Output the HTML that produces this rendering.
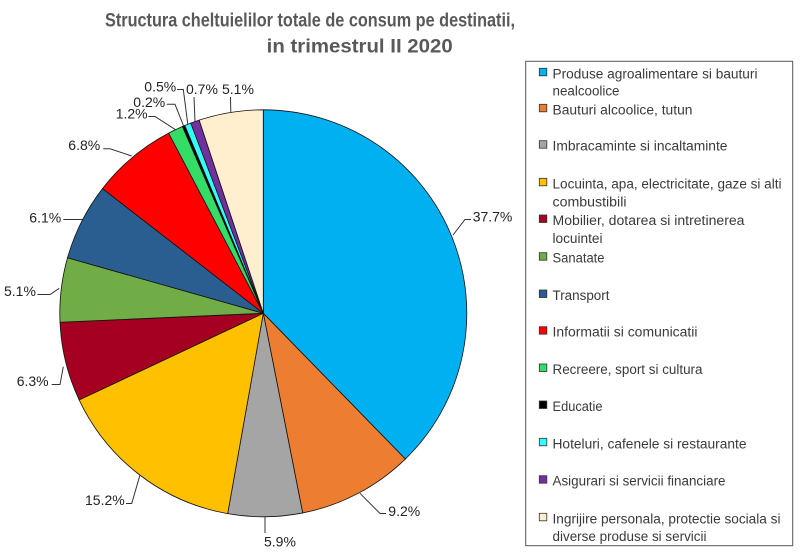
<!DOCTYPE html>
<html>
<head>
<meta charset="utf-8">
<style>
html,body{margin:0;padding:0;background:#fff;}
svg{display:block;}
.t{font-family:"Liberation Sans",Arial,sans-serif;font-weight:bold;font-size:19.5px;fill:#595959;}
.l{font-family:"Liberation Sans",Arial,sans-serif;font-size:14px;fill:#222;}
.g{font-family:"Liberation Sans",Arial,sans-serif;font-size:13.5px;fill:#3a3a3a;}
.ld{fill:none;stroke:#333;stroke-width:1;}
.m{stroke:#333;stroke-width:0.8;}
</style>
</head>
<body>
<svg width="800" height="560" viewBox="0 0 800 560" xmlns="http://www.w3.org/2000/svg">
<rect x="0" y="0" width="800" height="560" fill="#fff"/>
<!-- Title -->
<text class="t" x="105" y="26.7" textLength="410" lengthAdjust="spacingAndGlyphs">Structura cheltuielilor totale de consum pe destinatii,</text>
<text class="t" x="266.7" y="52.7" textLength="186" lengthAdjust="spacingAndGlyphs">in trimestrul II 2020</text>

<!-- Pie -->
<g stroke="#111" stroke-width="0.8" stroke-linejoin="round">
<path d="M263.3,313.3 L263.3,109.8 A203.5,203.5 0 0,1 405.34,459.03 Z" fill="#00B0F0"/>
<path d="M263.3,313.3 L405.34,459.03 A203.5,203.5 0 0,1 302.69,512.95 Z" fill="#ED7D31"/>
<path d="M263.3,313.3 L302.69,512.95 A203.5,203.5 0 0,1 227.68,513.66 Z" fill="#A5A5A5"/>
<path d="M263.3,313.3 L227.68,513.66 A203.5,203.5 0 0,1 79.17,399.95 Z" fill="#FFC000"/>
<path d="M263.3,313.3 L79.17,399.95 A203.5,203.5 0 0,1 60.0,322.25 Z" fill="#A50021"/>
<path d="M263.3,313.3 L60.0,322.25 A203.5,203.5 0 0,1 67.52,257.76 Z" fill="#70AD47"/>
<path d="M263.3,313.3 L67.52,257.76 A203.5,203.5 0 0,1 102.5,188.57 Z" fill="#2A5E91"/>
<path d="M263.3,313.3 L102.5,188.57 A203.5,203.5 0 0,1 168.65,133.15 Z" fill="#FF0000"/>
<path d="M263.3,313.3 L168.65,133.15 A203.5,203.5 0 0,1 182.48,126.54 Z" fill="#33DD66"/>
<path d="M263.3,313.3 L182.48,126.54 A203.5,203.5 0 0,1 184.83,125.53 Z" fill="#000000"/>
<path d="M263.3,313.3 L184.83,125.53 A203.5,203.5 0 0,1 190.77,123.16 Z" fill="#33FFFF"/>
<path d="M263.3,313.3 L190.77,123.16 A203.5,203.5 0 0,1 199.2,120.16 Z" fill="#7030A0"/>
<path d="M263.3,313.3 L199.2,120.16 A203.5,203.5 0 0,1 263.3,109.8 Z" fill="#FFEFCF"/>
</g>

<!-- Leader lines -->
<polyline class="ld" points="453,235 465,219.5 471,219.5"/>
<polyline class="ld" points="360,493.3 380,513.5 386,513.5"/>
<polyline class="ld" points="265,516.7 265,533"/>
<polyline class="ld" points="140,475 131.7,503.5 126,503.5"/>
<polyline class="ld" points="63.3,366.7 60,384.5 51.7,384.5"/>
<polyline class="ld" points="59.3,288.3 50,294.5 37.5,294.5"/>
<polyline class="ld" points="82.5,219.5 63.3,219.5"/>
<polyline class="ld" points="131.7,156 110,148.8 103.3,148.8"/>
<polyline class="ld" points="175.5,129.7 155,116.5 148.3,116.5"/>
<polyline class="ld" points="183.6,126 175,104.3 166.7,104.3"/>
<polyline class="ld" points="187.8,124.3 183.3,89.5 177,89.5"/>
<polyline class="ld" points="195,121.6 194,97"/>
<polyline class="ld" points="230.8,112.4 230.5,97"/>

<!-- Labels -->
<text class="l" x="472.7" y="221.7">37.7%</text>
<text class="l" x="388.3" y="516">9.2%</text>
<text class="l" x="264" y="546.7">5.9%</text>
<text class="l" x="85" y="505">15.2%</text>
<text class="l" x="16.7" y="386">6.3%</text>
<text class="l" x="4" y="296">5.1%</text>
<text class="l" x="29.3" y="222.7">6.1%</text>
<text class="l" x="68.3" y="150">6.8%</text>
<text class="l" x="115.7" y="118.3">1.2%</text>
<text class="l" x="133.3" y="107">0.2%</text>
<text class="l" x="144.3" y="91.5">0.5%</text>
<text class="l" x="186" y="94">0.7%</text>
<text class="l" x="222" y="94">5.1%</text>

<!-- Legend -->
<rect x="525.7" y="61.3" width="267" height="484.4" fill="#fff" stroke="#555" stroke-width="1"/>

<rect class="m" x="539.3" y="68.3" width="7.5" height="7.5" fill="#00B0F0"/>
<text class="g" x="552.5" y="78.3" textLength="205" lengthAdjust="spacingAndGlyphs">Produse agroalimentare si bauturi</text>
<text class="g" x="552.5" y="95.5" textLength="67" lengthAdjust="spacingAndGlyphs">nealcoolice</text>

<rect class="m" x="539.3" y="104.3" width="7.5" height="7.5" fill="#ED7D31"/>
<text class="g" x="552.5" y="114.3" textLength="140" lengthAdjust="spacingAndGlyphs">Bauturi alcoolice, tutun</text>

<rect class="m" x="539.3" y="140.7" width="7.5" height="7.5" fill="#A5A5A5"/>
<text class="g" x="552.5" y="150.7" textLength="175" lengthAdjust="spacingAndGlyphs">Imbracaminte si incaltaminte</text>

<rect class="m" x="539.3" y="178.3" width="7.5" height="7.5" fill="#FFC000"/>
<text class="g" x="552.5" y="188.3" textLength="229" lengthAdjust="spacingAndGlyphs">Locuinta, apa, electricitate, gaze si alti</text>
<text class="g" x="552.5" y="206.5" textLength="74" lengthAdjust="spacingAndGlyphs">combustibili</text>

<rect class="m" x="539.3" y="215" width="7.5" height="7.5" fill="#A50021"/>
<text class="g" x="552.5" y="225" textLength="192" lengthAdjust="spacingAndGlyphs">Mobilier, dotarea si intretinerea</text>
<text class="g" x="552.5" y="243.2" textLength="50" lengthAdjust="spacingAndGlyphs">locuintei</text>

<rect class="m" x="539.3" y="252.7" width="7.5" height="7.5" fill="#70AD47"/>
<text class="g" x="552.5" y="262.7" textLength="52" lengthAdjust="spacingAndGlyphs">Sanatate</text>

<rect class="m" x="539.3" y="290" width="7.5" height="7.5" fill="#2A5E91"/>
<text class="g" x="552.5" y="300" textLength="57" lengthAdjust="spacingAndGlyphs">Transport</text>

<rect class="m" x="539.3" y="326.7" width="7.5" height="7.5" fill="#FF0000"/>
<text class="g" x="552.5" y="336.7" textLength="145" lengthAdjust="spacingAndGlyphs">Informatii si comunicatii</text>

<rect class="m" x="539.3" y="364" width="7.5" height="7.5" fill="#33DD66"/>
<text class="g" x="552.5" y="374" textLength="150" lengthAdjust="spacingAndGlyphs">Recreere, sport si cultura</text>

<rect class="m" x="539.3" y="401" width="7.5" height="7.5" fill="#000000"/>
<text class="g" x="552.5" y="411" textLength="50" lengthAdjust="spacingAndGlyphs">Educatie</text>

<rect class="m" x="539.3" y="438.3" width="7.5" height="7.5" fill="#33FFFF"/>
<text class="g" x="552.5" y="448.3" textLength="194" lengthAdjust="spacingAndGlyphs">Hoteluri, cafenele si restaurante</text>

<rect class="m" x="539.3" y="475.7" width="7.5" height="7.5" fill="#7030A0"/>
<text class="g" x="552.5" y="485.7" textLength="173" lengthAdjust="spacingAndGlyphs">Asigurari si servicii financiare</text>

<rect class="m" x="539.3" y="513.3" width="7.5" height="7.5" fill="#FFEFCF"/>
<text class="g" x="552.5" y="523.3" textLength="228" lengthAdjust="spacingAndGlyphs">Ingrijire personala, protectie sociala si</text>
<text class="g" x="552.5" y="540.9" textLength="154" lengthAdjust="spacingAndGlyphs">diverse produse si servicii</text>
</svg>
</body>
</html>
